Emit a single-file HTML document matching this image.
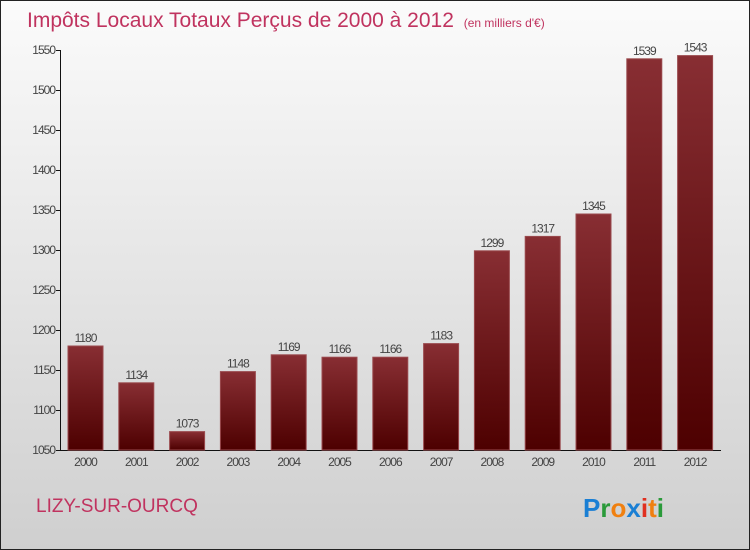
<!DOCTYPE html>
<html><head><meta charset="utf-8"><style>
body{margin:0;width:750px;height:550px;overflow:hidden;font-family:"Liberation Sans",sans-serif}
#wrap{position:absolute;left:0;top:0;width:748px;height:548px;border:1px solid #222;background:linear-gradient(#fbfbfb,#cfcfcf)}
</style></head><body>
<div id="wrap">
<svg width="750" height="550" style="position:absolute;left:-1px;top:-1px">
<defs><linearGradient id="bg" x1="0" y1="0" x2="0" y2="1"><stop offset="0" stop-color="#882e33"/><stop offset="1" stop-color="#4d0000"/></linearGradient></defs>
<text x="27" y="27" font-size="21" fill="#c0335f">Impôts Locaux Totaux Perçus de 2000 à 2012 <tspan font-size="12" dx="4">(en milliers d'€)</tspan></text>
<g id="yaxis"></g><g id="bars"></g>
<text x="36" y="512" font-size="19" fill="#c0335f">LIZY-SUR-OURCQ</text>
<text x="583" y="517" font-size="26" font-weight="bold"><tspan fill="#1a7fd4">P</tspan><tspan fill="#2a9a3a">r</tspan><tspan fill="#f08010">o</tspan><tspan fill="#1a7fd4">x</tspan><tspan fill="#e03020">i</tspan><tspan fill="#f08010">t</tspan><tspan fill="#2a9a3a">i</tspan></text>
</svg></div>
<script>
const years=["2000","2001","2002","2003","2004","2005","2006","2007","2008","2009","2010","2011","2012"];
const values=[1180,1134,1073,1148,1169,1166,1166,1183,1299,1317,1345,1539,1543];
const ticks=[1050,1100,1150,1200,1250,1300,1350,1400,1450,1500,1550];
const NS="http://www.w3.org/2000/svg";
const y=v=>450-(v-1050)*0.8;
const x=i=>68+i*50.8;
function mk(t,a,p){const e=document.createElementNS(NS,t);for(const k in a)e.setAttribute(k,a[k]);p.appendChild(e);return e;}
const ya=document.getElementById('yaxis'),bs=document.getElementById('bars');
const ax=mk('path',{d:'M60.5 50V450.5H721',stroke:'#111',fill:'none'},ya);


ticks.forEach(t=>{
 mk('line',{x1:56,x2:60,y1:y(t)+.5,y2:y(t)+.5,stroke:'#111'},ya);
 const l=mk('text',{x:55,y:y(t)+4,'font-size':12,fill:'#444','text-anchor':'end','letter-spacing':'-1'},ya);
 l.textContent=t;
 
 
});
years.forEach((yr,i)=>{
 const r=mk('rect',{x:x(i),y:y(values[i]),width:35,height:450-y(values[i]),fill:'url(#bg)',stroke:'#9a4a4e','stroke-width':1},bs);
 
 
 const v=mk('text',{x:x(i)+17.5,y:y(values[i])-4,'font-size':12,fill:'#444','text-anchor':'middle','letter-spacing':'-1'},bs);
 v.textContent=values[i];
 
 
 const xl=mk('text',{x:x(i)+17.5,y:466,'font-size':12,fill:'#444','text-anchor':'middle','letter-spacing':'-1'},bs);
 xl.textContent=yr;
 
 
});
</script>
</body></html>
